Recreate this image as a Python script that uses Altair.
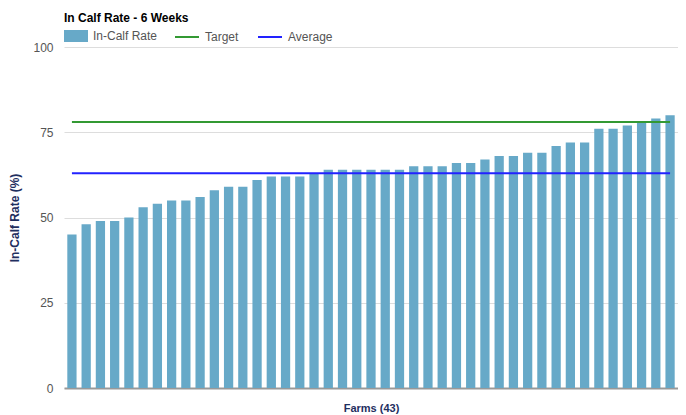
import altair as alt
import pandas as pd

# ---- data ----
farms = [f"Farm {i}" for i in range(1, 44)]
rates = [45, 48, 49, 49, 50, 53, 54, 55, 55, 56, 58, 59, 59, 61, 62, 62, 62, 63,
         64, 64, 64, 64, 64, 64, 65, 65, 65, 66, 66, 67, 68, 68, 69, 69, 71, 72,
         72, 76, 76, 77, 78, 79, 80]
target_value = 78
average_value = 63
bar_series = ["In-Calf Rate"]
line_series = ["Target", "Average"]
y_ticks = [0, 25, 50, 75, 100]

bars_df = pd.DataFrame({"farm": farms, "value": rates, "series": bar_series[0]})
lines_df = pd.DataFrame({
    "farm": [farms[0], farms[-1], farms[0], farms[-1]],
    "value": [target_value, target_value, average_value, average_value],
    "series": ["Target", "Target", "Average", "Average"],
})

FONT = "Liberation Sans"
NAVY = "#1f2f5f"
X_TITLE = "Farms (43)"
Y_TITLE = "In-Calf Rate (%)"

x_axis = alt.Axis(labels=False, ticks=False, domain=True, domainColor="#999999",
                  domainWidth=2, grid=False, titleFontSize=11,
                  titleFontWeight="bold", titleColor=NAVY, titleFont=FONT,
                  titlePadding=14)
y_axis = alt.Axis(values=y_ticks, ticks=False, domain=False, grid=True,
                  gridColor="#dddddd", labelColor="#555555", labelFontSize=12,
                  labelFont=FONT, labelPadding=11, titleFontSize=12,
                  titleFontWeight="bold", titleColor=NAVY, titleFont=FONT,
                  titlePadding=11)

bars = alt.Chart(bars_df).mark_bar().encode(
    x=alt.X("farm:N", sort=farms, title=X_TITLE,
            scale=alt.Scale(paddingInner=0.35, paddingOuter=0.232), axis=x_axis),
    y=alt.Y("value:Q", scale=alt.Scale(domain=[0, 100]), title=Y_TITLE, axis=y_axis),
    fill=alt.Fill("series:N", scale=alt.Scale(domain=bar_series, range=["#67a9c8"]),
                  legend=alt.Legend(orient="none", legendX=0, legendY=-23,
                                    direction="horizontal", title=None,
                                    symbolType="M-1,-0.5H1V0.5H-1Z", symbolSize=576,
                                    symbolStrokeWidth=0, labelFontSize=12,
                                    labelColor="#555555", labelFont=FONT,
                                    labelOffset=5)),
)

lines = alt.Chart(lines_df).mark_line(strokeWidth=2).encode(
    x=alt.X("farm:N", sort=farms, title=X_TITLE, axis=x_axis),
    y=alt.Y("value:Q", title=Y_TITLE, axis=y_axis),
    stroke=alt.Stroke("series:N",
                      scale=alt.Scale(domain=line_series, range=["#339933", "#2222ff"]),
                      legend=alt.Legend(orient="none", legendX=110, legendY=-23,
                                        direction="horizontal", title=None,
                                        symbolType="M-1,0H1", symbolSize=576,
                                        symbolStrokeWidth=2, labelFontSize=12,
                                        labelColor="#555555", labelFont=FONT,
                                        labelOffset=5, columnPadding=15)),
)

chart = alt.layer(bars, lines).properties(
    width=614, height=341,
    autosize=alt.AutoSizeParams(type="none"),
    padding={"left": 56, "top": 39, "right": 0, "bottom": 30},
    title=alt.TitleParams("In Calf Rate - 6 Weeks", anchor="start", frame="group",
                          fontSize=12, fontWeight="bold", color="black", font=FONT,
                          offset=-1),
).configure(font=FONT).configure_view(stroke=None)

chart.save("out.html", embed_options={"renderer": "svg", "actions": False})
